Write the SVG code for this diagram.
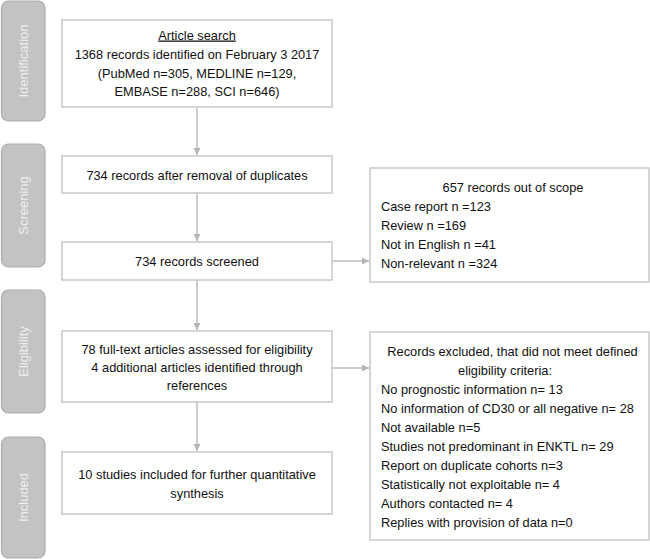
<svg xmlns="http://www.w3.org/2000/svg" width="650" height="559" viewBox="0 0 650 559">
<style>
.bar{fill:#c3c3c3;stroke:#ababab;stroke-width:1.2}
.bt{font-family:"Liberation Sans",Arial,sans-serif;font-size:13px;fill:#eeeeee;text-anchor:middle}
.box{fill:#ffffff;stroke:#c8c8c8;stroke-width:1.5}
.t{font-family:"Liberation Sans",Arial,sans-serif;font-size:12.8px;fill:#111111}
.c{text-anchor:middle}
.con{stroke:#bdbdbd;stroke-width:1.5;fill:none}
</style>
<defs>
<marker id="ah" viewBox="0 0 10 10" refX="10" refY="5" markerWidth="5" markerHeight="5" orient="auto" markerUnits="strokeWidth">
<path d="M0,0 L10,5 L0,10 z" fill="#b5b5b5"/>
</marker>
</defs>
<rect width="650" height="559" fill="#ffffff"/>
<g id="phase-identification">
<rect class="bar" x="1.5" y="1" width="43.5" height="120" rx="7"/>
<text class="bt" transform="translate(27.5,61) rotate(-90)">Identification</text>
</g>
<g id="phase-screening">
<rect class="bar" x="1.5" y="144" width="43.5" height="123" rx="7"/>
<text class="bt" transform="translate(27.5,205.5) rotate(-90)">Screening</text>
</g>
<g id="phase-eligibility">
<rect class="bar" x="1.5" y="290" width="43.5" height="123" rx="7"/>
<text class="bt" transform="translate(27.5,351.5) rotate(-90)">Eligibility</text>
</g>
<g id="phase-included">
<rect class="bar" x="1.5" y="437" width="43.5" height="121" rx="7"/>
<text class="bt" transform="translate(27.5,497.5) rotate(-90)">Included</text>
</g>
<g id="connectors">
<line class="con" x1="197" y1="107" x2="197" y2="155" marker-end="url(#ah)"/>
<line class="con" x1="197" y1="193" x2="197" y2="241" marker-end="url(#ah)"/>
<line class="con" x1="197" y1="280" x2="197" y2="330" marker-end="url(#ah)"/>
<line class="con" x1="197" y1="402" x2="197" y2="451" marker-end="url(#ah)"/>
<line class="con" x1="332" y1="261" x2="369" y2="261" marker-end="url(#ah)"/>
<line class="con" x1="332" y1="368" x2="369" y2="368" marker-end="url(#ah)"/>
</g>
<g id="search">
<rect class="box" x="62" y="20" width="270" height="87"/>
<text class="t c" x="197" y="39.5" text-decoration="underline">Article search</text>
<text class="t c" x="197" y="59">1368 records identified on February 3 2017</text>
<text class="t c" x="197" y="77.5">(PubMed n=305, MEDLINE n=129,</text>
<text class="t c" x="197" y="96">EMBASE n=288, SCI n=646)</text>
</g>
<g id="dedup">
<rect class="box" x="62" y="156" width="270" height="37"/>
<text class="t c" x="197" y="180">734 records after removal of duplicates</text>
</g>
<g id="screened">
<rect class="box" x="62" y="242" width="270" height="38"/>
<text class="t c" x="197" y="265.5">734 records screened</text>
</g>
<g id="fulltext">
<rect class="box" x="62" y="331" width="270" height="71"/>
<text class="t c" x="197" y="353.5">78 full-text articles assessed for eligibility</text>
<text class="t c" x="197" y="371.5">4 additional articles identified through</text>
<text class="t c" x="197" y="390">references</text>
</g>
<g id="included">
<rect class="box" x="62" y="452" width="270" height="62"/>
<text class="t c" x="197" y="478.5">10 studies included for further quantitative</text>
<text class="t c" x="197" y="497.5">synthesis</text>
</g>
<g id="out-of-scope">
<rect class="box" x="370" y="168" width="279" height="114"/>
<text class="t c" x="513" y="191.5">657 records out of scope</text>
<text class="t" x="381" y="210.5">Case report n =123</text>
<text class="t" x="381" y="229.5">Review n =169</text>
<text class="t" x="381" y="248.5">Not in English n =41</text>
<text class="t" x="381" y="267.5">Non-relevant n =324</text>
</g>
<g id="excluded">
<rect class="box" x="370" y="332" width="279" height="208"/>
<text class="t c" x="512.5" y="356">Records excluded, that did not meet defined</text>
<text class="t c" x="505" y="374.5">eligibility criteria:</text>
<text class="t" x="381" y="393.5">No prognostic information n= 13</text>
<text class="t" x="381" y="412.5">No information of CD30 or all negative n= 28</text>
<text class="t" x="381" y="431.5">Not available n=5</text>
<text class="t" x="381" y="450.5">Studies not predominant in ENKTL n= 29</text>
<text class="t" x="381" y="469.5">Report on duplicate cohorts n=3</text>
<text class="t" x="381" y="488.5">Statistically not exploitable n= 4</text>
<text class="t" x="381" y="507.5">Authors contacted n= 4</text>
<text class="t" x="381" y="526.5">Replies with provision of data n=0</text>
</g>
</svg>
